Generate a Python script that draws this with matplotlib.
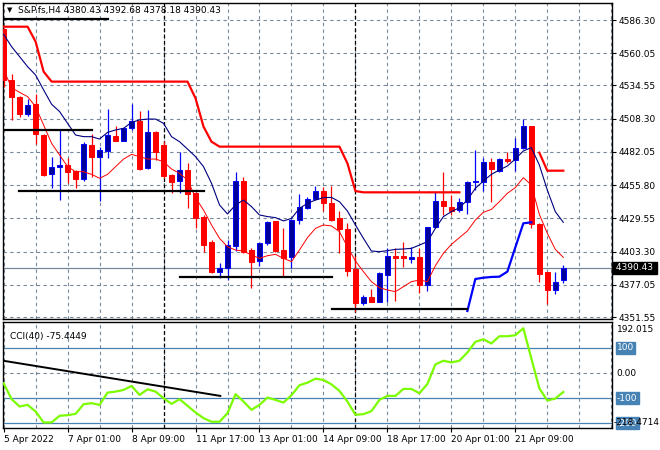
import numpy as np
import matplotlib.pyplot as plt
from matplotlib.transforms import blended_transform_factory

plt.rcParams['font.family'] = ['DejaVu Sans']

# H4 candles, bar index 0..70
opens = [4579.0, 4538.9, 4525.2, 4511.7, 4519.9, 4495.4, 4464.8, 4470.1, 4471.7, 4466.9,
         4460.9, 4487.5, 4478.3, 4483.0, 4494.6, 4490.9, 4500.7, 4506.5, 4469.6, 4498.0,
         4487.5, 4463.8, 4459.3, 4467.7, 4449.3, 4430.6, 4410.6, 4387.4, 4390.0, 4407.9,
         4459.0, 4404.5, 4396.1, 4409.8, 4427.4, 4404.5, 4398.7, 4428.5, 4438.0, 4444.5,
         4451.1, 4441.9, 4429.5, 4421.1, 4389.5, 4362.9, 4367.1, 4363.7, 4384.7, 4400.0,
         4400.0, 4397.4, 4398.7, 4376.8, 4422.4, 4443.5, 4438.8, 4436.1, 4442.2, 4458.0,
         4458.0, 4473.8, 4467.2, 4476.4, 4475.6, 4484.9, 4502.5, 4425.1, 4386.9, 4372.9,
         4380.43]
highs = [4580.0, 4543.4, 4526.0, 4523.6, 4527.5, 4496.4, 4478.0, 4499.4, 4477.0, 4467.7,
         4490.1, 4496.2, 4486.2, 4516.0, 4502.5, 4501.5, 4519.7, 4514.4, 4515.2, 4498.5,
         4490.7, 4464.3, 4481.7, 4473.5, 4450.6, 4432.2, 4412.1, 4394.2, 4412.1, 4466.4,
         4462.0, 4405.8, 4411.1, 4427.4, 4427.7, 4421.6, 4429.0, 4448.5, 4446.1, 4455.1,
         4454.6, 4454.8, 4435.3, 4425.6, 4400.0, 4368.9, 4373.7, 4387.4, 4405.8, 4405.8,
         4411.1, 4406.6, 4405.8, 4422.9, 4450.6, 4466.4, 4448.0, 4445.9, 4459.3, 4483.5,
         4477.0, 4477.0, 4477.0, 4482.2, 4492.8, 4508.0, 4502.5, 4425.6, 4387.4, 4386.9,
         4392.68]
lows = [4533.6, 4507.0, 4509.9, 4510.7, 4488.0, 4463.3, 4453.8, 4443.8, 4457.2, 4453.2,
        4459.3, 4462.0, 4443.2, 4477.5, 4490.7, 4490.7, 4499.4, 4467.7, 4468.5, 4475.6,
        4461.2, 4449.3, 4449.8, 4437.4, 4422.2, 4403.2, 4386.6, 4382.1, 4380.8, 4403.7,
        4401.9, 4374.7, 4392.1, 4408.4, 4403.2, 4383.4, 4390.5, 4425.1, 4436.6, 4444.0,
        4435.3, 4427.7, 4402.4, 4384.2, 4355.8, 4361.0, 4363.1, 4363.1, 4363.1, 4364.2,
        4390.8, 4394.0, 4370.8, 4372.1, 4421.6, 4432.2, 4432.2, 4434.3, 4433.0, 4451.9,
        4451.4, 4442.7, 4466.4, 4473.0, 4467.0, 4484.1, 4421.6, 4379.5, 4361.5, 4369.5,
        4378.18]
closes = [4538.9, 4525.2, 4511.7, 4519.1, 4495.9, 4463.8, 4470.1, 4471.4, 4466.4, 4460.9,
          4488.3, 4478.3, 4483.3, 4495.4, 4490.9, 4500.7, 4506.5, 4468.5, 4498.0, 4482.2,
          4463.3, 4458.5, 4467.7, 4448.8, 4430.1, 4408.4, 4387.4, 4390.0, 4408.4, 4459.0,
          4402.7, 4395.3, 4409.8, 4426.9, 4404.0, 4398.4, 4428.2, 4438.2, 4445.1, 4451.1,
          4441.4, 4428.5, 4420.8, 4388.2, 4362.3, 4367.1, 4363.7, 4386.1, 4399.8, 4398.4,
          4397.9, 4398.7, 4376.8, 4422.4, 4443.5, 4439.5, 4435.3, 4442.7, 4458.5, 4459.3,
          4473.8, 4468.3, 4476.2, 4475.1, 4484.9, 4502.5, 4425.1, 4385.3, 4372.9, 4379.5,
          4390.43]

ma_slow = [4575.0, 4565.2, 4557.3, 4549.4, 4542.8, 4531.0, 4519.7, 4513.9, 4504.6, 4495.4,
           4494.1, 4494.1, 4492.2, 4497.5, 4499.4, 4500.7, 4505.4, 4507.3, 4508.0, 4508.0,
           4504.6, 4494.1, 4490.1, 4484.3, 4478.3, 4470.4, 4457.2, 4440.1, 4433.0, 4440.1,
           4444.0, 4438.8, 4432.2, 4430.9, 4430.1, 4427.5, 4429.5, 4437.4, 4441.4, 4444.0,
           4445.9, 4446.1, 4442.7, 4435.3, 4424.3, 4413.7, 4403.7, 4403.2, 4404.0, 4405.0,
           4405.3, 4405.8, 4408.4, 4411.1, 4421.6, 4430.9, 4434.8, 4438.0, 4444.0, 4453.3,
           4459.0, 4464.3, 4467.7, 4470.9, 4476.4, 4482.8, 4485.4, 4471.7, 4451.9, 4434.8,
           4426.4]
ma_fast = [4546.8, 4532.8, 4529.1, 4525.7, 4517.8, 4503.3, 4488.8, 4479.6, 4470.4, 4466.4,
           4466.4, 4464.3, 4461.2, 4464.3, 4470.4, 4476.4, 4480.1, 4478.3, 4476.4, 4476.4,
           4474.3, 4468.5, 4465.1, 4459.8, 4445.9, 4436.1, 4424.3, 4413.7, 4407.1, 4404.5,
           4403.7, 4400.5, 4397.9, 4400.0, 4401.1, 4397.9, 4395.3, 4404.5, 4414.3, 4421.6,
           4424.3, 4423.5, 4419.0, 4407.1, 4395.8, 4387.4, 4379.5, 4374.7, 4372.9, 4371.6,
           4375.5, 4379.5, 4380.8, 4379.5, 4392.1, 4401.9, 4408.9, 4414.3, 4419.5, 4428.2,
           4434.3, 4436.6, 4442.7, 4449.3, 4453.8, 4461.7, 4455.9, 4432.7, 4417.7, 4405.0,
           4398.7]

nan = np.nan
upper_line = [4581.0, 4581.0, 4581.0, 4581.0, 4569.2, 4545.5, 4537.6, 4537.6, 4537.6, 4537.6,
              4537.6, 4537.6, 4537.6, 4537.6, 4537.6, 4537.6, 4537.6, 4537.6, 4537.6, 4537.6,
              4537.6, 4537.6, 4537.6, 4537.6, 4524.4, 4502.0, 4490.1, 4486.2, 4486.2, 4486.2,
              4486.2, 4486.2, 4486.2, 4486.2, 4486.2, 4486.2, 4486.2, 4486.2, 4486.2, 4486.2,
              4486.2, 4486.2, 4486.2, 4473.0, 4451.1, 4450.1, 4450.1, 4450.1, 4450.1, 4450.1,
              4450.1, 4450.1, 4450.1, 4450.1, 4450.1, 4450.1, 4450.1, 4450.1, nan, nan,
              nan, nan, nan, nan, nan, nan, nan, 4481.4, 4467.2, 4467.2,
              4467.2]
lower_x = [58, 59, 60, 61, 62, 63, 64, 65, 66]
lower_line = [4356.3, 4381.6, 4382.6, 4383.2, 4383.4, 4387.4, 4406.6, 4425.6, 4426.4]

# drawn support / resistance lines: (start bar, end bar, price)
levels = [(-0.1, 13.1, 4587.0), (-0.1, 11.05, 4499.4), (1.96, 25.1, 4451.4),
          (22.0, 41.05, 4383.4), (41.05, 57.9, 4357.9)]

cci = [-40.8, -104.1, -133.0, -126.5, -152.9, -196.4, -196.4, -170.0, -167.4, -162.1,
       -123.9, -120.0, -126.5, -77.7, -73.8, -67.2, -51.4, -87.0, -64.6, -73.8,
       -100.1, -122.5, -104.1, -130.4, -156.8, -179.2, -193.7, -193.7, -159.4, -84.3,
       -113.3, -146.2, -126.5, -97.5, -106.7, -117.3, -88.3, -48.7, -38.2, -22.4,
       -27.7, -45.0, -71.1, -113.3, -166.0, -163.4, -151.5, -106.7, -90.9, -90.9,
       -63.2, -63.2, -80.4, -43.5, 34.3, 48.8, 42.2, 48.8, 81.7, 123.9,
       134.4, 117.3, 146.3, 146.3, 150.2, 178.0, 58.0, -60.6, -109.3, -101.4,
       -75.44]
cci_trend = ([0.0, 27.1], [48.6, -90.9])

price_ticks = [4586.30, 4560.05, 4534.55, 4508.30, 4482.05, 4455.80, 4429.55, 4403.30, 4377.05, 4351.55]
time_pos = [0, 8, 16, 24, 32, 40, 48, 56, 64]
time_labels = ['5 Apr 2022', '7 Apr 01:00', '8 Apr 09:00', '11 Apr 17:00', '13 Apr 01:00',
               '14 Apr 09:00', '18 Apr 17:00', '20 Apr 01:00', '21 Apr 09:00']
separators = [20, 44]
last_price = 4390.43

fs = 6.5
grid_c = '#778899'
dash = (0, (3, 3))

fig = plt.figure(figsize=(6.6, 4.5), dpi=100)
ax = fig.add_axes([3 / 660, 1 - 319 / 450, 609 / 660, 316 / 450])
ax2 = fig.add_axes([3 / 660, 1 - 428 / 450, 609 / 660, 106 / 450])

x = np.arange(len(opens))
xlim = (-0.08, 76.09)

# candles
for i in x:
    o, h, l, c = opens[i], highs[i], lows[i], closes[i]
    bull = c >= o
    edge = '#0000ff' if bull else '#ff0000'
    face = '#00009a' if bull else '#ff0000'
    ax.vlines(i, l, h, color=edge, lw=0.9, zorder=3)
    ax.bar(i, max(abs(c - o), 0.6), bottom=min(o, c), width=0.6, color=face,
           edgecolor=edge, lw=0.7, zorder=4)

ax.plot(x, ma_slow, color='#000080', lw=0.8, zorder=5)
ax.plot(x, ma_fast, color='#ff0000', lw=0.7, zorder=5)
ax.plot(x, upper_line, color='#ff0000', lw=1.6, zorder=5)
ax.plot(lower_x, lower_line, color='#0000ff', lw=1.6, zorder=5)
for x0, x1, p in levels:
    ax.plot([x0, x1], [p, p], color='black', lw=1.6, zorder=6)

ax.axhline(last_price, color=grid_c, lw=0.9, zorder=2)
for s in separators:
    ax.axvline(s, color='black', lw=0.9, ls=(0, (3, 2)), zorder=2)
    ax2.axvline(s, color='black', lw=0.9, ls=(0, (3, 2)), zorder=2)

ax.set_xlim(*xlim)
ax.set_ylim(4349.97, 4599.74)
ax.set_yticks(price_ticks)
ax.set_yticklabels([f'{p:.2f}' for p in price_ticks])
ax.yaxis.tick_right()
ax.tick_params(axis='y', length=3, pad=2, labelsize=fs, width=0.8)
ax.set_xticks(np.arange(0, 77, 4))
ax.tick_params(axis='x', length=0, labelbottom=False)
ax.grid(True, color=grid_c, ls=dash, lw=0.8)

ytr = blended_transform_factory(ax.transAxes, ax.transData)
ax.text(1.002, last_price, ' 4390.43 ', transform=ytr, fontsize=fs, color='white',
        va='center', ha='left', zorder=10,
        bbox=dict(boxstyle='square,pad=0.15', fc='black', ec='black'))

ax.text(0.007, 0.977, '\u25bc', transform=ax.transAxes, fontsize=5, va='center', ha='left')
ax.text(0.025, 0.977, 'S&P.fs,H4 4380.43 4392.68 4378.18 4390.43', transform=ax.transAxes,
        fontsize=fs, va='center', ha='left')

# CCI panel
ax2.plot(x, cci, color='#7cfc00', lw=1.6, zorder=5)
ax2.plot(cci_trend[0], cci_trend[1], color='black', lw=1.4, zorder=6)
for lv in (100, -100, -200):
    ax2.axhline(lv, color='#4682b4', lw=0.9, zorder=2)
ax2.set_xlim(*xlim)
ax2.set_ylim(-218.47, 202.8)
ax2.set_yticks([0])
ax2.set_yticklabels([''])
ax2.tick_params(axis='y', length=0)
ax2.set_xticks(time_pos)
ax2.set_xticklabels(time_labels)
ax2.set_xticks(np.arange(0, 77, 4), minor=True)
ax2.tick_params(axis='x', which='major', length=3, pad=2, labelsize=fs, width=0.8)
ax2.tick_params(axis='x', which='minor', length=0)
for t in ax2.get_xticklabels():
    t.set_horizontalalignment('left')
ax2.grid(True, which='both', color=grid_c, ls=dash, lw=0.8)
ax2.yaxis.grid(True, color=grid_c, ls=dash, lw=0.8)

ctr = blended_transform_factory(ax2.transAxes, ax2.transData)
ax2.text(1.008, 172, '192.015', transform=ctr, fontsize=fs, va='center', ha='left')
ax2.text(1.008, 0, '0.00', transform=ctr, fontsize=fs, va='center', ha='left')
for lv in (100, -100, -200):
    ax2.text(1.008, lv, f'{lv}', transform=ctr, fontsize=fs, va='center', ha='left',
             color='white', bbox=dict(boxstyle='square,pad=0.15', fc='#4682b4', ec='#4682b4'))
ax2.text(1.003, -197, '-218.4714', transform=ctr, fontsize=fs, va='center', ha='left')
ax2.text(0.012, 0.86, 'CCI(40) -75.4449', transform=ax2.transAxes, fontsize=fs,
         va='center', ha='left')

for a in (ax, ax2):
    for sp in a.spines.values():
        sp.set_linewidth(1.0)
    a.set_facecolor('white')

fig.savefig('out.png', dpi=100)
